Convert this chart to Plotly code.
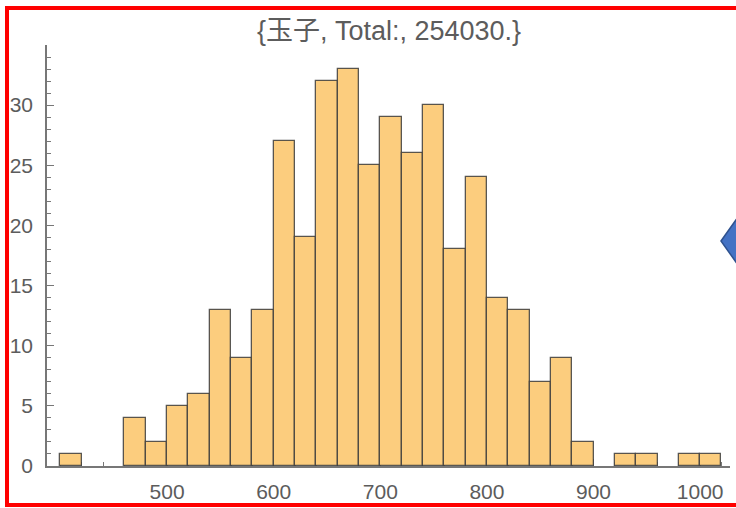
import plotly.graph_objects as go

# Data: histogram of daily values (bin width 20)
bin_starts = [400, 420, 440, 460, 480, 500, 520, 540, 560, 580, 600, 620, 640, 660, 680,
              700, 720, 740, 760, 780, 800, 820, 840, 860, 880, 900, 920, 940, 960, 980, 1000]
counts = [1, 0, 0, 4, 2, 5, 6, 13, 9, 13, 27, 19, 32, 33, 25,
          29, 26, 30, 18, 24, 14, 13, 7, 9, 2, 0, 1, 1, 0, 1, 1]
bin_width = 20
title_text = "{玉子, Total:, 254030.}"
x_ticks = [500, 600, 700, 800, 900, 1000]
y_ticks = [0, 5, 10, 15, 20, 25, 30]

W, H = 736, 508
L, T, R, B = 47, 45, 6, 42
PW, PH = W - L - R, H - T - B

def px(x):
    return (x - L) / PW

def py(y):
    return (H - B - y) / PH

font_main = "Liberation Sans, Arial, Noto Sans CJK JP, sans-serif"
grey = "#5c5c5c"
edge = "rgba(60,60,60,0.85)"

fig = go.Figure()
fig.add_trace(go.Bar(
    x=[s + bin_width / 2 for s in bin_starts],
    y=counts,
    width=[bin_width] * len(bin_starts),
    marker=dict(color="#FCCD7E",
                line=dict(color=[edge if c > 0 else "rgba(0,0,0,0)" for c in counts], width=1.3)),
    hoverinfo="skip",
))

fig.update_layout(
    width=W, height=H,
    margin=dict(l=L, r=R, t=T, b=B, pad=0),
    paper_bgcolor="white", plot_bgcolor="white",
    showlegend=False,
    bargap=0,
    title=dict(text=title_text, x=389 / W, xref="container", xanchor="center",
               y=1 - 31 / H, yref="container", yanchor="middle",
               font=dict(family=font_main, size=27, color=grey)),
    xaxis=dict(range=[387.4, 1028], showgrid=False, zeroline=False,
               showline=True, linecolor="#777", linewidth=1.5,
               tickvals=x_ticks, ticks="inside", ticklen=7, tickcolor="#777",
               minor=dict(dtick=20, tick0=0, ticks="inside", ticklen=4, tickcolor="#777"),
               tickfont=dict(family=font_main, size=21, color=grey),
               ticklabelstandoff=6,
               layer="below traces"),
    yaxis=dict(range=[0, 35], showgrid=False, zeroline=False,
               showline=True, linecolor="#777", linewidth=1.5,
               tickvals=y_ticks, ticks="inside", ticklen=7, tickcolor="#777",
               minor=dict(dtick=1, tick0=0, ticks="inside", ticklen=4, tickcolor="#777"),
               tickfont=dict(family=font_main, size=21, color=grey),
               ticklabelstandoff=8,
               layer="below traces"),
    shapes=[
        dict(type="rect", xref="paper", yref="paper",
             x0=px(7), x1=px(760), y0=py(505), y1=py(8),
             line=dict(color="#FF0000", width=4), fillcolor="rgba(0,0,0,0)", layer="above"),
        dict(type="path", xref="paper", yref="paper",
             path=f"M {px(721)} {py(241)} L {px(760)} {py(186)} L {px(799)} {py(241)} L {px(760)} {py(296)} Z",
             fillcolor="#4472C4", line=dict(color="#2F528F", width=1.5), layer="above"),
    ],
)

fig.write_html(
    "out.html",
    config={"displayModeBar": False},
    post_script="document.body.style.margin='0';document.body.style.padding='0';"
                "document.body.style.overflow='hidden';",
)
